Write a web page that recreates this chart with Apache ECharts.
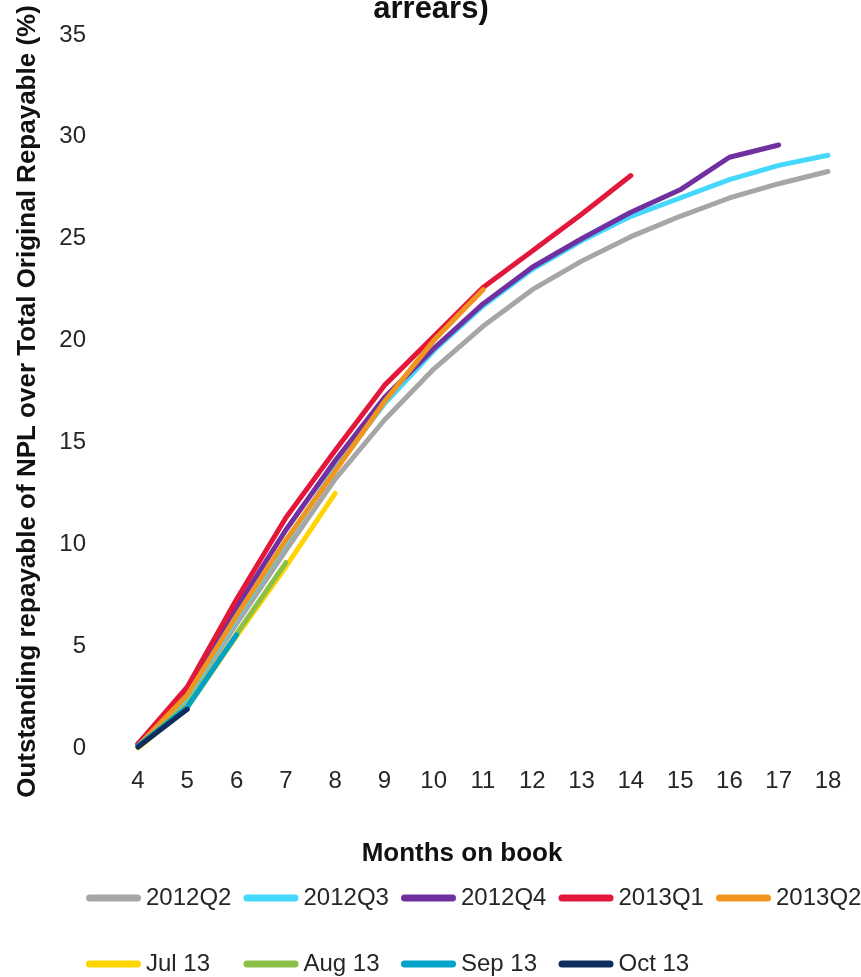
<!DOCTYPE html>
<html>
<head>
<meta charset="utf-8">
<script src="https://cdn.jsdelivr.net/npm/echarts@6/dist/echarts.min.js"></script>
<style>
  html, body { margin: 0; padding: 0; background: #fff; }
  #chart { width: 861px; height: 977px; }
</style>
</head>
<body>
<div id="chart"></div>
<script>
// Months on book (x axis categories)
const months = ['4', '5', '6', '7', '8', '9', '10', '11', '12', '13', '14', '15', '16', '17', '18'];

// Cumulative NPL ratio (%) per vintage, starting at month 4
const v2012Q2 = [0.2, 2.4, 6.1, 9.7, 13.2, 16.1, 18.6, 20.7, 22.5, 23.9, 25.1, 26.1, 27.0, 27.7, 28.3];
const v2012Q3 = [0.2, 2.5, 6.4, 10.1, 13.7, 16.9, 19.5, 21.7, 23.5, 24.9, 26.1, 27.0, 27.9, 28.6, 29.1];
const v2012Q4 = [0.2, 2.8, 6.9, 10.7, 14.1, 17.2, 19.6, 21.8, 23.6, 25.0, 26.3, 27.4, 29.0, 29.6];
const v2013Q1 = [0.2, 3.0, 7.3, 11.3, 14.6, 17.8, 20.2, 22.6, 24.4, 26.2, 28.1];
const v2013Q2 = [0.1, 2.6, 6.5, 10.2, 13.6, 17.0, 20.0, 22.5];
const vJul13 = [0.0, 2.0, 5.5, 8.9, 12.5];
const vAug13 = [0.05, 2.1, 5.6, 9.1];
const vSep13 = [0.1, 2.0, 5.55];
const vOct13 = [0.05, 1.9];

const seriesNames = ['2012Q2', '2012Q3', '2012Q4', '2013Q1', '2013Q2', 'Jul 13', 'Aug 13', 'Sep 13', 'Oct 13'];
const seriesValues = [v2012Q2, v2012Q3, v2012Q4, v2013Q1, v2013Q2, vJul13, vAug13, vSep13, vOct13];
const seriesColors = ['#A6A6A6', '#45D8FC', '#7030A0', '#E3173A', '#F0961E', '#FFD500', '#8CBF47', '#00A3C8', '#0C2D5E'];

const FONT = '"Liberation Sans", Arial, sans-serif';
const TEXT = '#262626';
// rounded-end line swatch, same proportions as itemWidth x itemHeight
const capsule = 'path://M3.5,0 L51.5,0 A3.5,3.5 0 0 1 51.5,7 L3.5,7 A3.5,3.5 0 0 1 3.5,0 Z';

// legend laid out as a grid: 5 columns, 2 rows
const LEG_LEFT = 81, LEG_COL = 157.5, LEG_TOP = 881, LEG_ROW = 66, LEG_COLS = 5;
const legends = seriesNames.map((name, i) => ({
  left: LEG_LEFT + (i % LEG_COLS) * LEG_COL,
  top: LEG_TOP + Math.floor(i / LEG_COLS) * LEG_ROW,
  orient: 'horizontal',
  icon: capsule,
  itemWidth: 55,
  itemHeight: 7,
  data: [name],
  textStyle: { fontFamily: FONT, fontSize: 24, color: TEXT }
}));

const chart = echarts.init(document.getElementById('chart'), null, { renderer: 'canvas' });
chart.setOption({
  backgroundColor: '#ffffff',
  animation: false,
  textStyle: { fontFamily: FONT },
  graphic: [{
    type: 'text',
    x: 431,
    y: 25,
    style: {
      text: 'arrears)',
      fontFamily: FONT,
      fontSize: 31,
      fontWeight: 'bold',
      fill: '#111',
      align: 'center',
      verticalAlign: 'bottom'
    },
    z: 10
  }],
  grid: { left: 138, right: 33, top: 35, bottom: 229, containLabel: false },
  legend: legends,
  xAxis: {
    type: 'category',
    data: months,
    boundaryGap: false,
    name: 'Months on book',
    nameLocation: 'middle',
    nameGap: 93,
    nameTextStyle: { fontFamily: FONT, fontSize: 26, fontWeight: 'bold', color: '#111', padding: [0, 42, 0, 0] },
    axisLine: { show: false },
    axisTick: { show: false },
    splitLine: { show: false },
    axisLabel: { fontFamily: FONT, fontSize: 24, color: TEXT, margin: 21 }
  },
  yAxis: {
    type: 'value',
    min: 0,
    max: 35,
    interval: 5,
    name: 'Outstanding repayable of NPL over Total Original Repayable (%)',
    nameLocation: 'middle',
    nameRotate: 90,
    nameGap: 97,
    nameTextStyle: { fontFamily: FONT, fontSize: 26, fontWeight: 'bold', color: '#111', padding: [0, 20, 0, 0] },
    axisLine: { show: false },
    axisTick: { show: false },
    splitLine: { show: false },
    axisLabel: { fontFamily: FONT, fontSize: 24, color: TEXT, margin: 52 }
  },
  series: seriesNames.map((name, i) => ({
    name: name,
    type: 'line',
    data: seriesValues[i],
    symbol: 'none',
    smooth: false,
    color: seriesColors[i],
    lineStyle: { width: 5, color: seriesColors[i], cap: 'round', join: 'round' },
    emphasis: { disabled: true }
  }))
});
</script>
</body>
</html>
